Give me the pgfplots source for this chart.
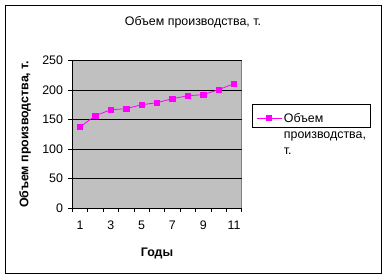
\documentclass[border=0pt]{standalone}
\usepackage{pgfplots}
\pgfplotsset{compat=1.18}
\usepackage{fontspec}
\setmainfont{Liberation Sans}
\definecolor{plotbg}{HTML}{C0C0C0}
\definecolor{mag}{HTML}{FF00FF}
\definecolor{frame}{HTML}{808080}
\newcommand\fs{\fontsize{12.4}{14}\selectfont}
\begin{document}
\fs
\begin{tikzpicture}[x=1pt,y=1pt]
\useasboundingbox (0,0) rectangle (387,279);
\draw[black, line width=0.8pt] (5.5,5.5) rectangle (381,273.5);
\node[font=\fs] at (193,256.3) {Объем производства, т.};
\begin{axis}[
  at={(72.3pt,71pt)}, anchor=south west,
  scale only axis, width=169.4pt, height=147.3pt,
  xmin=0.5, xmax=11.5, ymin=0, ymax=250,
  axis x line*=bottom, axis y line*=left,
  axis line style={-, black, line width=0.8pt},
  axis background/.style={fill=plotbg, draw=frame, line width=0.8pt},
  xtick={1,...,11}, xticklabels={1,,3,,5,,7,,9,,11},
  minor xtick={0.5,1.5,...,11.5},
  major x tick style={draw=none},
  ytick={0,50,...,250},
  tick align=outside,
  major tick length=4pt, minor tick length=4pt,
  tick style={black, line width=0.8pt},
  ymajorgrids, grid style={black, line width=0.8pt},
  /pgf/number format/assume math mode=true,
  ticklabel style={font=\fs},
  yticklabel style={xshift=-1pt},
  xticklabel style={yshift=-5pt},
  xlabel={\textbf{Годы}}, ylabel={\textbf{Объем производства, т.}},
  xlabel style={at={(axis description cs:0.5,-0.312)}, anchor=center, font=\fs},
  ylabel style={at={(axis description cs:-0.279,0.5)}, anchor=center, font=\fs},
  legend style={at={(axis description cs:1.059,0.706)}, anchor=north west,
    draw=black, line width=0.8pt, fill=white, inner xsep=4pt, inner ysep=0pt,
    nodes={inner xsep=2pt, inner ysep=3pt},
    font=\fs, cells={anchor=base west}},
  legend image code/.code={\draw[#1, mark repeat=2, mark phase=2, yshift=4.3pt] plot coordinates {(0pt,0pt) (12.5pt,0pt) (25pt,0pt)};},
]
\addplot[mag, line width=0.8pt, mark=square*, mark size=2.7pt, mark options={fill=mag, draw=mag}]
  coordinates {(1,137.5) (2,156.7) (3,166.8) (4,168.5) (5,175.3) (6,178.7) (7,185.5) (8,190.6) (9,192.3) (10,200.8) (11,211)};
\addlegendentry{\parbox[t]{80pt}{\baselineskip=16pt \rule{0pt}{15pt}Объем\\производства,\\т.}}
\end{axis}
\end{tikzpicture}
\end{document}
